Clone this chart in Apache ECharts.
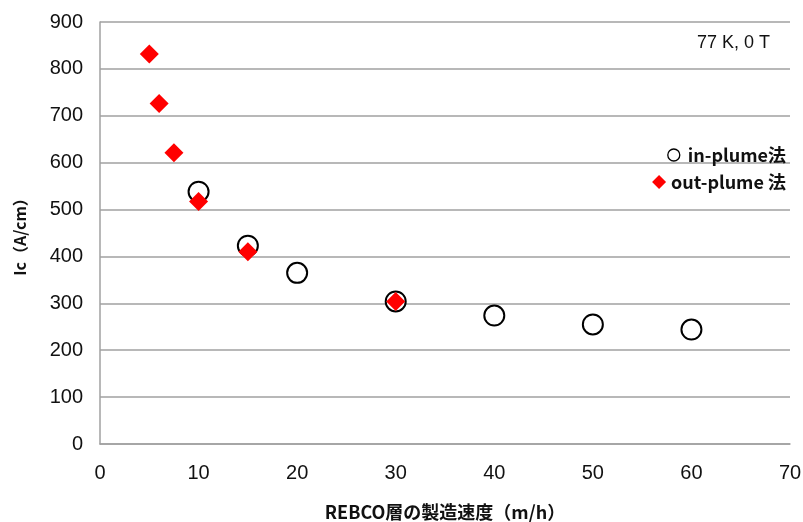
<!DOCTYPE html>
<html><head><meta charset="utf-8">
<script src="https://cdn.jsdelivr.net/npm/echarts@6/dist/echarts.min.js"></script>
<style>html,body{margin:0;padding:0;background:#fff}#c{width:803px;height:522px}</style>
</head><body><div id="c"></div>
<script>
const inPlumeX = [10, 15, 20, 30, 40, 50, 60];
const inPlumeY = [538, 423, 365, 304, 274, 255, 244];
const outPlumeX = [5, 6, 7.5, 10, 15, 30];
const outPlumeY = [832, 726, 621, 517, 410, 304];
const xTicks = {min: 0, max: 70, interval: 10};
const yTicks = {min: 0, max: 900, interval: 100};
const seriesNames = ['in-plume法', 'out-plume 法'];
const xName = 'REBCO層の製造速度（m/h）';
const yName = 'Ic（A/cm）';
const note = '77 K, 0 T';

const cjk = '"Noto Sans CJK JP", sans-serif';
const latin = '"Liberation Sans", Arial, sans-serif';
const chart = echarts.init(document.getElementById('c'));
chart.setOption({
  backgroundColor: '#fff',
  animation: false,
  textStyle: {fontFamily: cjk},
  grid: {left: 100, right: 13, top: 22, bottom: 78, containLabel: false, outerBoundsMode: 'none'},
  xAxis: {
    type: 'value', min: xTicks.min, max: xTicks.max, interval: xTicks.interval,
    name: xName, nameLocation: 'middle', nameGap: 59,
    nameTextStyle: {fontSize: 18, fontWeight: 'bold', color: '#111', fontFamily: cjk},
    axisLine: {lineStyle: {color: '#a0a0a0', width: 1.5}},
    axisTick: {show: false},
    axisLabel: {fontSize: 20, color: '#111', margin: 19, fontFamily: latin},
    splitLine: {show: false}
  },
  yAxis: {
    type: 'value', min: yTicks.min, max: yTicks.max, interval: yTicks.interval,
    name: yName, nameLocation: 'middle', nameGap: 72,
    nameTextStyle: {fontSize: 16, fontWeight: 'bold', color: '#111', fontFamily: cjk},
    axisLine: {show: true, lineStyle: {color: '#a0a0a0', width: 1.5}},
    axisTick: {show: false},
    axisLabel: {fontSize: 20, color: '#111', margin: 17, fontFamily: latin},
    splitLine: {lineStyle: {color: '#a0a0a0', width: 1.5}}
  },
  legend: [
    {
      orient: 'vertical', right: 12, top: 141,
      itemWidth: 12, itemHeight: 12,
      textStyle: {fontSize: 18, fontWeight: 'bold', color: '#111', fontFamily: cjk, padding: [0, 0, 0, 3]},
      data: [{name: seriesNames[0], icon: 'circle',
              itemStyle: {color: '#fff', borderColor: '#000', borderWidth: 1.3}}]
    },
    {
      orient: 'vertical', right: 12, top: 168,
      itemWidth: 14, itemHeight: 14,
      textStyle: {fontSize: 18, fontWeight: 'bold', color: '#111', fontFamily: cjk},
      data: [{name: seriesNames[1], icon: 'diamond'}]
    }
  ],
  graphic: [{
    type: 'text', right: 33, top: 34,
    style: {text: note, fontSize: 18, fill: '#111', fontFamily: latin}
  }],
  series: [
    {
      name: seriesNames[0], type: 'scatter', symbol: 'circle', symbolSize: 20,
      itemStyle: {color: '#fff', borderColor: '#000', borderWidth: 2, opacity: 1},
      data: inPlumeX.map((x, i) => [x, inPlumeY[i]]), z: 2
    },
    {
      name: seriesNames[1], type: 'scatter', symbol: 'diamond', symbolSize: [19, 19],
      itemStyle: {color: '#ff0000', opacity: 1},
      data: outPlumeX.map((x, i) => [x, outPlumeY[i]]), z: 3
    }
  ]
});
</script></body></html>
